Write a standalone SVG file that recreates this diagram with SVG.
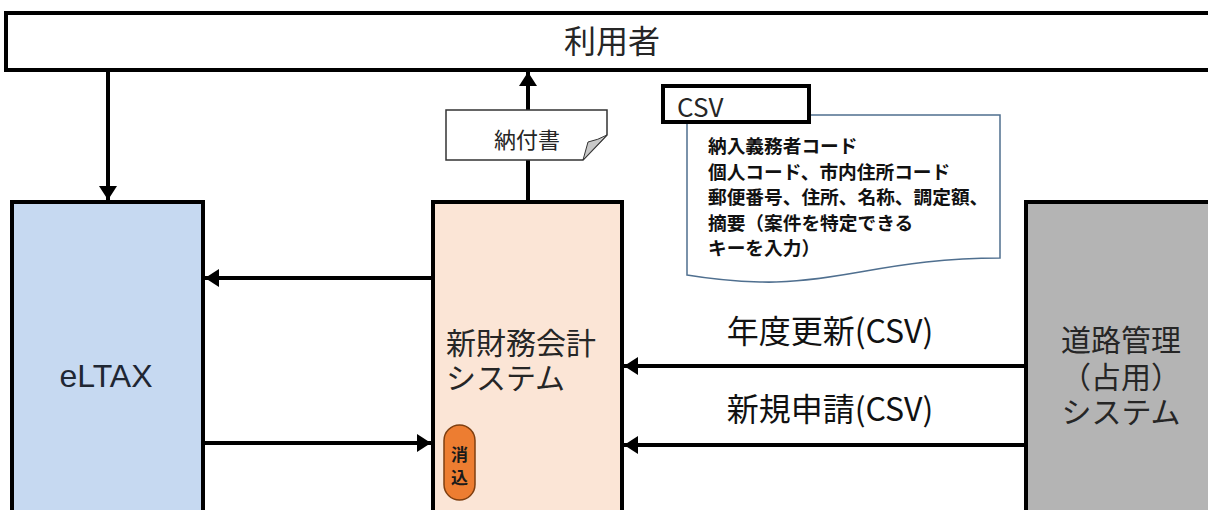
<svg xmlns="http://www.w3.org/2000/svg" width="1208" height="510" viewBox="0 0 1208 510">
<defs>
<marker id="ah" markerUnits="userSpaceOnUse" markerWidth="14" markerHeight="18" refX="14" refY="9" orient="auto"><path d="M0,0 L14,9 L0,18 Z" fill="#000"/></marker>
</defs>
<style>
.box{stroke:#000;stroke-width:4}
.jp{font-family:"Noto Sans CJK JP","Liberation Sans",sans-serif;fill:#262626}
.doc{font-family:"Noto Sans CJK JP","Liberation Sans",sans-serif;fill:#111;font-size:18.7px;font-weight:bold}
.conn{stroke:#000;stroke-width:4;fill:none;marker-end:url(#ah)}
</style>
<rect width="1208" height="510" fill="#fff"/>
<g id="connectors">
<path class="conn" d="M108,72 L108,200"/>
<path class="conn" d="M528,200 L528,72"/>
<path class="conn" d="M431,278 L205,278"/>
<path class="conn" d="M205,443 L431,443"/>
<path class="conn" d="M1024,366 L624,366"/>
<path class="conn" d="M1024,445 L624,445"/>
</g>
<g id="user">
<rect class="box" x="6" y="13" width="1215" height="57" fill="#fff"/>
<text class="jp" x="612" y="53" font-size="32" text-anchor="middle">利用者</text>
</g>
<g id="eltax">
<rect class="box" x="12" y="202" width="191" height="330" fill="#c6d9f1"/>
<text x="106" y="387" font-size="32" text-anchor="middle" font-family="Liberation Sans, Arial, sans-serif" fill="#1f2733">eLTAX</text>
</g>
<g id="finance">
<rect class="box" x="433" y="202" width="189" height="330" fill="#fbe5d6"/>
<text class="jp" font-size="30"><tspan x="446" y="354">新財務会計</tspan><tspan x="446" y="389">システム</tspan></text>
<g id="keshikomi">
<rect x="444" y="425" width="31" height="75" rx="15.5" fill="#ed7d31" stroke="#7f3f10" stroke-width="1.5"/>
<text class="jp" font-size="17" font-weight="bold" text-anchor="middle" style="fill:#1a1a1a"><tspan x="459.5" y="461">消</tspan><tspan x="459.5" y="484">込</tspan></text>
</g>
</g>
<g id="road">
<rect class="box" x="1026" y="202" width="200" height="330" fill="#b4b4b4"/>
<text class="jp" font-size="30" text-anchor="middle"><tspan x="1121" y="351">道路管理</tspan><tspan x="1121" y="388">（占用）</tspan><tspan x="1121" y="423">システム</tspan></text>
</g>
<g id="label-nendo">
<text class="jp" x="830" y="343" font-size="32" text-anchor="middle" style="fill:#111">年度更新(CSV)</text>
</g>
<g id="label-shinki">
<text class="jp" x="830" y="421" font-size="32" text-anchor="middle" style="fill:#111">新規申請(CSV)</text>
</g>
<g id="nofusho">
<path d="M446,110 H607 V135 L583,160 H446 Z" fill="#fff" stroke="#333" stroke-width="1.5"/>
<path d="M583,160 L588,142 Q598,140 607,135 Z" fill="#c8c8c8" stroke="#333" stroke-width="1"/>
<text class="jp" x="527" y="148" font-size="22" text-anchor="middle">納付書</text>
</g>
<g id="csv-doc">
<path d="M687,115 H1000 V258 C945,258 905,264 860,272 C820,279 790,283 760,282 C725,281 705,278 687,275 Z" fill="#fff" stroke="#4f6f8f" stroke-width="1.5"/>
<rect x="663" y="86" width="146" height="36" fill="#fff" stroke="#000" stroke-width="4"/>
<text class="jp" x="677" y="117" font-size="26">CSV</text>
<text class="doc"><tspan x="708" y="153">納入義務者コード</tspan><tspan x="708" y="178.5">個人コード、市内住所コード</tspan><tspan x="708" y="204">郵便番号、住所、名称、調定額、</tspan><tspan x="708" y="229.5">摘要（案件を特定できる</tspan><tspan x="708" y="255">キーを入力）</tspan></text>
</g>
</svg>
